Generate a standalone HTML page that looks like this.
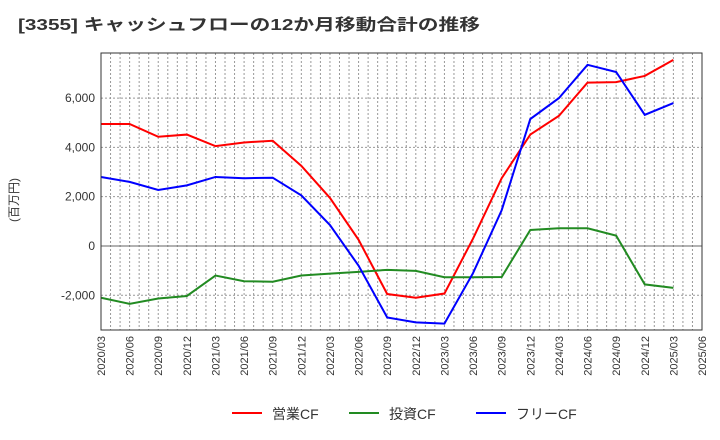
<!DOCTYPE html>
<html><head><meta charset="utf-8"><style>
body{margin:0;background:#fff;}
svg{display:block;font-family:"Liberation Sans","Noto Sans CJK JP",sans-serif;}
</style></head><body>
<svg id="c" width="720" height="440">
<text x="18" y="30" font-size="16" font-weight="bold" fill="#333" textLength="462" lengthAdjust="spacingAndGlyphs">[3355]  キャッシュフローの12か月移動合計の推移</text>
<text transform="translate(18,200) rotate(-90)" text-anchor="middle" font-size="12" fill="#333">(百万円)</text>
<g id="grid"></g><g id="series"></g><g id="axes"></g>
<g>
<line x1="232" y1="413" x2="262" y2="413" stroke="#f00" stroke-width="2"/><text x="272" y="419" font-size="14" fill="#333">営業CF</text>
<line x1="349" y1="413" x2="379" y2="413" stroke="#228b22" stroke-width="2"/><text x="389" y="419" font-size="14" fill="#333">投資CF</text>
<line x1="476" y1="413" x2="506" y2="413" stroke="#00f" stroke-width="2"/><text x="516" y="419" font-size="14" fill="#333">フリーCF</text>
</g>
</svg>
<script>
const categories=["2020/03","2020/06","2020/09","2020/12","2021/03","2021/06","2021/09","2021/12","2022/03","2022/06","2022/09","2022/12","2023/03","2023/06","2023/09","2023/12","2024/03","2024/06","2024/09","2024/12","2025/03","2025/06"];
const operatingCF=[4950,4950,4430,4520,4050,4200,4270,3250,1950,250,-1950,-2100,-1930,300,2750,4520,5280,6630,6650,6900,7550];
const investingCF=[-2100,-2350,-2130,-2030,-1200,-1430,-1450,-1200,-1120,-1050,-970,-1010,-1270,-1270,-1260,650,720,720,420,-1560,-1700];
const freeCF=[2800,2600,2270,2460,2800,2750,2770,2050,850,-800,-2900,-3100,-3150,-1100,1450,5150,6000,7350,7060,5320,5800];
const yTicks=[-2000,0,2000,4000,6000];
const L=101,R=702,T=53,B=330,yMin=-3410,yMax=7830;
const ns="http://www.w3.org/2000/svg";
const xs=i=>L+(R-L)*i/(categories.length-1);
const ys=v=>B-(v-yMin)/(yMax-yMin)*(B-T);
function mk(p,t,a){const e=document.createElementNS(ns,t);for(const k in a)e.setAttribute(k,a[k]);p.appendChild(e);return e;}
const g=document.getElementById('grid'),ax=document.getElementById('axes'),s=document.getElementById('series');
for(let m=1;m<(categories.length-1)*3;m++){const x=L+(R-L)*m/((categories.length-1)*3);
const l=mk(g,'line',{x1:x,y1:T,x2:x,y2:B,stroke:'#999','stroke-dasharray':'2,2','stroke-width':1});

}
yTicks.forEach(v=>{const y=ys(v);
const l=mk(g,'line',{x1:L,y1:y,x2:R,y2:y,stroke:v===0?'#666':'#999','stroke-dasharray':v===0?'':'2,2','stroke-width':1});


const t=mk(ax,'text',{x:L-6,y:y+4,'text-anchor':'end','font-size':12,fill:'#333'});t.textContent=v.toLocaleString('en-US');

});
const fr=mk(ax,'rect',{x:L,y:T,width:R-L,height:B-T,fill:'none',stroke:'#333','stroke-width':1});


categories.forEach((c,i)=>{const x=xs(i)+4;
const t=mk(ax,'text',{transform:`translate(${x},${B+6}) rotate(-90)`,'text-anchor':'end','font-size':11,fill:'#333'});t.textContent=c;

});
[[operatingCF,'#f00','operating-cf-line'],[investingCF,'#228b22','investing-cf-line'],[freeCF,'#00f','free-cf-line']].forEach(([d,col,n])=>{
const p=mk(s,'polyline',{points:d.map((v,i)=>xs(i)+','+ys(v)).join(' '),fill:'none',stroke:col,'stroke-width':2});

});
</script>
</body></html>
